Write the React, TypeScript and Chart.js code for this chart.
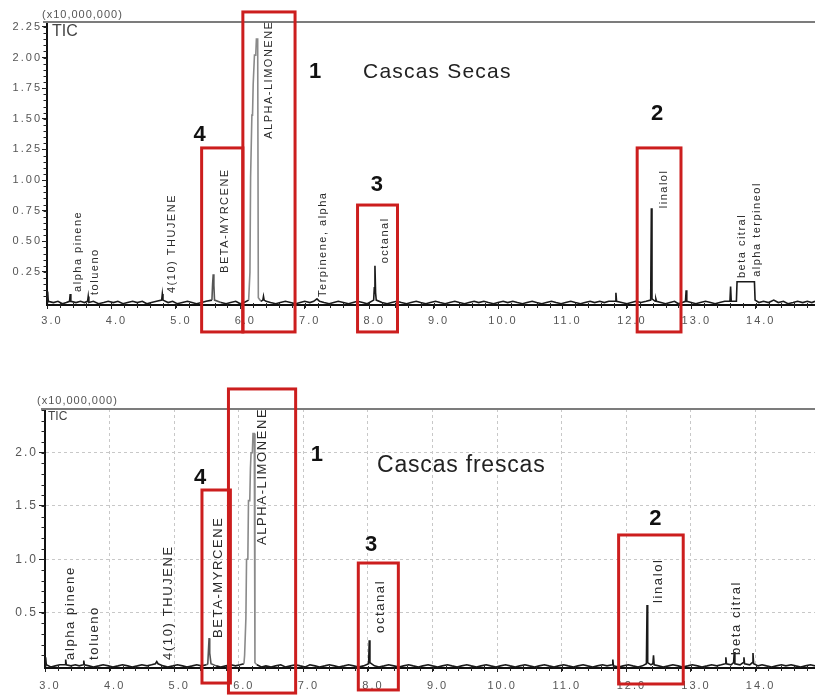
import React, { useEffect, useRef } from "react";
import { Chart, registerables } from "chart.js";

Chart.register(...registerables);

const FONT = "'Liberation Sans', Arial, sans-serif";

// ---------- Cascas Secas (dried peels) : retention time (min) / TIC (x10,000,000)
const secasRT = [
  3.00, 3.01, 3.02, 3.10, 3.17, 3.24, 3.30, 3.35, 3.36, 3.37,
  3.45, 3.52, 3.58, 3.63, 3.64, 3.65, 3.72, 3.80, 3.88, 3.95,
  4.03, 4.10, 4.18, 4.25, 4.33, 4.40, 4.48, 4.55, 4.62, 4.70,
  4.78, 4.79, 4.80, 4.88, 4.95, 5.02, 5.10, 5.18, 5.25, 5.32,
  5.40, 5.47, 5.56, 5.57, 5.58, 5.59, 5.60, 5.70, 5.78, 5.85,
  5.93, 6.00, 6.06, 6.13, 6.15, 6.16, 6.18, 6.19, 6.20, 6.21,
  6.22, 6.24, 6.25, 6.27, 6.28, 6.32, 6.35, 6.36, 6.37, 6.40,
  6.47, 6.55, 6.62, 6.70, 6.78, 6.86, 6.93, 7.00, 7.08, 7.14,
  7.19, 7.23, 7.30, 7.38, 7.45, 7.52, 7.60, 7.68, 7.75, 7.82,
  7.90, 7.97, 8.07, 8.08, 8.09, 8.10, 8.11, 8.20, 8.28, 8.35,
  8.43, 8.50, 8.58, 8.65, 8.73, 8.80, 8.88, 8.95, 9.03, 9.10,
  9.18, 9.25, 9.33, 9.40, 9.48, 9.55, 9.63, 9.70, 9.78, 9.85,
  9.93, 10.00, 10.08, 10.15, 10.23, 10.30, 10.38, 10.45, 10.53, 10.60,
  10.68, 10.75, 10.83, 10.90, 10.98, 11.05, 11.13, 11.20, 11.28, 11.35,
  11.43, 11.50, 11.58, 11.65, 11.72, 11.82, 11.83, 11.84, 11.92, 12.00,
  12.07, 12.14, 12.22, 12.30, 12.37, 12.38, 12.39, 12.44, 12.45, 12.46,
  12.53, 12.60, 12.67, 12.74, 12.80, 12.86, 12.91, 12.92, 12.93, 13.00,
  13.07, 13.14, 13.22, 13.30, 13.37, 13.44, 13.52, 13.60, 13.61, 13.62,
  13.70, 13.71, 13.98, 13.99, 14.05, 14.12, 14.20, 14.28, 14.35, 14.43,
  14.50, 14.58, 14.65, 14.73, 14.80, 14.87, 14.92,
];
const secasTIC = [
  0.00, 0.09, 0.01, 0.00, 0.01, -0.01, 0.00, 0.01, 0.07, 0.01,
  0.00, 0.01, 0.00, 0.01, 0.05, 0.00, 0.01, -0.01, 0.00, 0.01,
  0.00, 0.01, -0.01, 0.00, 0.01, 0.00, 0.01, -0.01, 0.00, 0.01,
  0.02, 0.07, 0.02, 0.00, 0.01, -0.01, 0.00, 0.01, 0.00, -0.01,
  0.00, 0.01, 0.02, 0.15, 0.23, 0.14, 0.02, 0.00, -0.01, 0.00,
  0.01, -0.01, 0.00, 0.02, 0.25, 1.02, 1.53, 1.53, 1.78, 1.78,
  2.02, 2.02, 2.15, 2.15, 0.04, 0.01, 0.02, 0.05, 0.02, 0.01,
  0.00, -0.01, 0.00, 0.01, 0.00, -0.01, 0.00, 0.01, 0.00, 0.01,
  0.03, 0.01, 0.00, -0.01, 0.00, 0.01, 0.00, -0.01, 0.00, 0.01,
  0.00, -0.01, 0.02, 0.12, 0.30, 0.08, 0.02, 0.00, -0.01, 0.00,
  0.01, 0.00, -0.01, 0.00, 0.01, 0.00, -0.01, 0.00, 0.01, 0.00,
  -0.01, 0.00, 0.01, 0.00, -0.01, 0.00, 0.01, 0.00, 0.01, 0.00,
  -0.01, 0.00, 0.01, 0.00, 0.01, 0.00, -0.01, 0.00, 0.01, 0.00,
  -0.01, 0.00, 0.01, 0.00, -0.01, 0.00, 0.01, 0.00, -0.01, 0.00,
  0.01, 0.00, 0.01, 0.00, 0.01, 0.01, 0.08, 0.01, 0.00, -0.01,
  0.00, 0.01, 0.00, 0.01, 0.02, 0.77, 0.03, 0.01, 0.03, 0.01,
  0.00, -0.01, 0.00, 0.01, -0.01, 0.00, 0.01, 0.10, 0.01, 0.00,
  -0.01, 0.00, 0.01, 0.00, -0.01, 0.00, 0.01, 0.01, 0.13, 0.01,
  0.01, 0.17, 0.17, 0.02, 0.00, 0.01, 0.00, 0.02, 0.00, 0.01,
  -0.01, 0.00, 0.01, 0.00, 0.01, 0.00, 0.01,
];

// ---------- Cascas frescas (fresh peels)
const frescasRT = [
  3.00, 3.01, 3.02, 3.09, 3.16, 3.23, 3.31, 3.32, 3.33, 3.40,
  3.47, 3.53, 3.59, 3.60, 3.61, 3.68, 3.75, 3.83, 3.90, 3.98,
  4.05, 4.13, 4.20, 4.28, 4.35, 4.43, 4.50, 4.58, 4.65, 4.71,
  4.73, 4.75, 4.83, 4.90, 4.98, 5.05, 5.13, 5.20, 5.28, 5.35,
  5.42, 5.50, 5.52, 5.53, 5.54, 5.55, 5.57, 5.65, 5.72, 5.80,
  5.88, 5.95, 6.02, 6.08, 6.09, 6.11, 6.12, 6.14, 6.15, 6.17,
  6.18, 6.19, 6.21, 6.22, 6.24, 6.25, 6.28, 6.35, 6.42, 6.50,
  6.57, 6.65, 6.72, 6.80, 6.88, 6.95, 7.03, 7.10, 7.18, 7.25,
  7.33, 7.40, 7.48, 7.55, 7.63, 7.70, 7.78, 7.85, 7.93, 8.01,
  8.02, 8.03, 8.10, 8.17, 8.25, 8.32, 8.40, 8.48, 8.55, 8.63,
  8.70, 8.78, 8.85, 8.93, 9.00, 9.08, 9.15, 9.23, 9.30, 9.38,
  9.45, 9.53, 9.60, 9.68, 9.75, 9.83, 9.90, 9.98, 10.05, 10.13,
  10.20, 10.28, 10.35, 10.43, 10.50, 10.58, 10.65, 10.73, 10.80, 10.88,
  10.95, 11.03, 11.10, 11.18, 11.25, 11.33, 11.40, 11.48, 11.55, 11.63,
  11.70, 11.78, 11.79, 11.80, 11.88, 11.95, 12.03, 12.10, 12.18, 12.25,
  12.31, 12.32, 12.33, 12.38, 12.41, 12.42, 12.43, 12.50, 12.57, 12.65,
  12.72, 12.80, 12.87, 12.95, 13.02, 13.10, 13.17, 13.25, 13.32, 13.40,
  13.47, 13.53, 13.54, 13.55, 13.62, 13.66, 13.67, 13.68, 13.76, 13.81,
  13.82, 13.83, 13.91, 13.95, 13.96, 13.97, 14.04, 14.10, 14.17, 14.25,
  14.32, 14.40, 14.47, 14.55, 14.62, 14.70, 14.77, 14.85, 14.92,
];
const frescasTIC = [
  0.00, 0.08, 0.01, -0.01, 0.00, 0.01, 0.01, 0.06, 0.01, 0.00,
  0.01, 0.00, 0.01, 0.05, 0.01, 0.00, -0.01, 0.00, 0.01, 0.00,
  -0.01, 0.00, 0.01, 0.00, -0.01, 0.00, 0.01, 0.00, 0.01, 0.02,
  0.04, 0.02, 0.00, -0.01, 0.00, 0.01, 0.00, -0.01, 0.00, 0.01,
  0.00, 0.01, 0.02, 0.14, 0.26, 0.12, 0.02, 0.00, -0.01, 0.00,
  0.01, 0.00, 0.01, 0.02, 0.10, 0.45, 1.00, 1.00, 1.55, 1.55,
  1.85, 2.00, 2.00, 2.18, 2.18, 0.03, 0.01, -0.01, 0.00, -0.01,
  0.00, 0.01, -0.01, 0.00, 0.01, 0.00, -0.01, 0.01, 0.00, -0.01,
  0.00, 0.01, 0.00, -0.01, 0.00, 0.01, 0.00, -0.01, 0.00, 0.02,
  0.24, 0.03, 0.00, -0.01, 0.00, 0.01, 0.00, -0.01, 0.00, 0.01,
  0.00, -0.01, 0.00, 0.01, 0.00, -0.01, 0.00, 0.01, 0.00, -0.01,
  0.00, 0.01, 0.00, -0.01, 0.00, 0.01, 0.00, -0.01, 0.00, 0.01,
  0.00, -0.01, 0.00, 0.01, 0.00, -0.01, 0.00, 0.01, 0.00, -0.01,
  0.00, 0.01, 0.00, -0.01, 0.00, 0.01, 0.00, -0.01, 0.00, 0.01,
  0.00, 0.01, 0.06, 0.00, -0.01, 0.00, 0.01, 0.00, -0.01, 0.00,
  0.02, 0.57, 0.03, 0.01, 0.02, 0.10, 0.01, 0.00, -0.01, 0.00,
  0.01, 0.00, -0.01, 0.00, 0.01, 0.00, -0.01, 0.00, 0.01, 0.00,
  0.01, 0.02, 0.08, 0.02, 0.01, 0.03, 0.13, 0.02, 0.01, 0.03,
  0.08, 0.02, 0.01, 0.03, 0.12, 0.02, 0.00, 0.01, 0.00, -0.01,
  0.00, 0.01, 0.00, 0.01, 0.00, -0.01, 0.00, 0.01, 0.00,
];

// ---------- tick labels
const xTicks = [3, 4, 5, 6, 7, 8, 9, 10, 11, 12, 13, 14];
const secasYTicks = [0.25, 0.5, 0.75, 1.0, 1.25, 1.5, 1.75, 2.0, 2.25];
const frescasYTicks = [0.5, 1.0, 1.5, 2.0];

// ---------- peak names (vertical labels): retention time & intensity where the label starts
const secasPeakNames = [
  "alpha pinene", "tolueno", "4(10) THUJENE", "BETA-MYRCENE", "ALPHA-LIMONENE",
  "Terpinene, alpha", "octanal", "linalol", "beta citral", "alpha terpineol",
];
const secasPeakRT = [3.48, 3.74, 4.94, 5.76, 6.44, 7.29, 8.24, 12.57, 13.78, 14.02];
const secasPeakBase = [0.087, 0.062, 0.078, 0.242, 1.337, 0.046, 0.32, 0.77, 0.2, 0.21];

const frescasPeakNames = [
  "alpha pinene", "tolueno", "4(10) THUJENE", "BETA-MYRCENE", "ALPHA-LIMONENE",
  "octanal", "linalol", "beta citral",
];
const frescasPeakRT = [3.40, 3.76, 4.91, 5.68, 6.36, 8.19, 12.49, 13.70];
const frescasPeakBase = [0.056, 0.056, 0.056, 0.262, 1.134, 0.309, 0.59, 0.103];

// ---------- highlighted regions (red boxes): [rtStart, rtEnd, top, bottom]
const secasBoxes = [
  [6.04, 6.85, 2.372, -0.24],
  [5.40, 6.04, 1.262, -0.24],
  [7.82, 8.44, 0.796, -0.24],
  [12.16, 12.84, 1.262, -0.24],
];
const frescasBoxes = [
  [5.84, 6.88, 2.598, -0.255],
  [5.43, 5.87, 1.65, -0.161],
  [7.85, 8.47, 0.965, -0.226],
  [11.88, 12.88, 1.228, -0.17],
];

// ---------- region numbers
const regionNumbers = ["1", "4", "3", "2"];
const secasNumberRT = [7.16, 5.37, 8.12, 12.47];
const secasNumberY = [1.882, 1.368, 0.964, 1.543];
const frescasNumberRT = [7.21, 5.40, 8.05, 12.45];
const frescasNumberY = [1.978, 1.763, 1.134, 1.378];

type Panel = {
  rt: number[];
  tic: number[];
  yMin: number;
  yMax: number;
  xMax: number;
  yTicks: number[];
  yDecimals: number;
  yMinor: number;
  yAxisWidth: number;
  xAxisHeight: number;
  padTop: number;
  yTickFont: number;
  yTickLen: number;
  yTickPad: number;
  xTickPad: number;
  grid: boolean;
  greyFrom: number;
  greyTo: number;
  peakNames: string[];
  peakRT: number[];
  peakBase: number[];
  peakFont: number;
  peakSpacing: string;
  boxes: number[][];
  numRT: number[];
  numY: number[];
  title: string;
  titleRT: number;
  titleY: number;
  titleFont: number;
  titleSpacing: string;
  unitX: number;
  unitY: number;
  ticX: number;
  ticY: number;
  ticFont: number;
};

const secasPanel: Panel = {
  rt: secasRT, tic: secasTIC, yMin: -0.02, yMax: 2.29, xMax: 14.92,
  yTicks: secasYTicks, yDecimals: 2, yMinor: 0.05,
  yAxisWidth: 47, xAxisHeight: 35, padTop: 22,
  yTickFont: 11, yTickLen: 5, yTickPad: 0, xTickPad: 5,
  grid: false, greyFrom: 6.10, greyTo: 6.30,
  peakNames: secasPeakNames, peakRT: secasPeakRT, peakBase: secasPeakBase,
  peakFont: 11, peakSpacing: "1.5px",
  boxes: secasBoxes, numRT: secasNumberRT, numY: secasNumberY,
  title: "Cascas Secas", titleRT: 7.905, titleY: 1.882, titleFont: 21, titleSpacing: "1.2px",
  unitX: 42, unitY: 15, ticX: 52, ticY: 32, ticFont: 16,
};

const frescasPanel: Panel = {
  rt: frescasRT, tic: frescasTIC, yMin: -0.02, yMax: 2.41, xMax: 14.92,
  yTicks: frescasYTicks, yDecimals: 1, yMinor: 0.1,
  yAxisWidth: 45, xAxisHeight: 27, padTop: 34,
  yTickFont: 12, yTickLen: 6, yTickPad: 1, xTickPad: 7,
  grid: true, greyFrom: 6.06, greyTo: 6.26,
  peakNames: frescasPeakNames, peakRT: frescasPeakRT, peakBase: frescasPeakBase,
  peakFont: 13, peakSpacing: "1.6px",
  boxes: frescasBoxes, numRT: frescasNumberRT, numY: frescasNumberY,
  title: "Cascas frescas", titleRT: 8.14, titleY: 1.881, titleFont: 23, titleSpacing: "0.8px",
  unitX: 37, unitY: 26, ticX: 48, ticY: 42, ticFont: 12,
};

function makeChart(canvas: HTMLCanvasElement, p: Panel): Chart {
  const overlay = {
    id: "overlay",
    beforeDraw(chart: any) {
      chart.ctx.letterSpacing = "2px";
    },
    afterDraw(chart: any) {
      const ctx: CanvasRenderingContext2D = chart.ctx;
      const a = chart.chartArea;
      const xs = chart.scales.x;
      const ys = chart.scales.y;
      ctx.save();
      (ctx as any).letterSpacing = "0px";

      // top frame line
      ctx.strokeStyle = "#7c7c7c";
      ctx.lineWidth = 2;
      ctx.beginPath();
      ctx.moveTo(a.left - 4, a.top);
      ctx.lineTo(a.right, a.top);
      ctx.stroke();

      // minor ticks
      ctx.strokeStyle = "#222";
      ctx.lineWidth = 1;
      ctx.beginPath();
      for (let k = 1; k * p.yMinor <= p.yMax + 1e-9; k++) {
        const py = Math.round(ys.getPixelForValue(k * p.yMinor)) + 0.5;
        ctx.moveTo(a.left - 3.5, py);
        ctx.lineTo(a.left, py);
      }
      for (let k = 1; 3 + k * 0.2 <= p.xMax; k++) {
        const px = Math.round(xs.getPixelForValue(3 + k * 0.2)) + 0.5;
        ctx.moveTo(px, a.bottom - 2);
        ctx.lineTo(px, a.bottom + 3);
      }
      ctx.stroke();

      // unit + TIC
      ctx.fillStyle = "#555";
      ctx.font = `11px ${FONT}`;
      (ctx as any).letterSpacing = "1px";
      ctx.textAlign = "left";
      ctx.textBaseline = "middle";
      ctx.fillText("(x10,000,000)", p.unitX, p.unitY);
      ctx.fillStyle = "#444";
      ctx.font = `${p.ticFont}px ${FONT}`;
      (ctx as any).letterSpacing = "0px";
      ctx.fillText("TIC", p.ticX, p.ticY);

      // peak labels (vertical)
      ctx.fillStyle = "#2a2a2a";
      ctx.font = `${p.peakFont}px ${FONT}`;
      (ctx as any).letterSpacing = p.peakSpacing;
      for (let i = 0; i < p.peakNames.length; i++) {
        const px = xs.getPixelForValue(p.peakRT[i]);
        const py = ys.getPixelForValue(p.peakBase[i]);
        ctx.save();
        ctx.translate(px, py);
        ctx.rotate(-Math.PI / 2);
        ctx.textAlign = "left";
        ctx.textBaseline = "middle";
        ctx.fillText(p.peakNames[i], 0, 0);
        ctx.restore();
      }

      // title
      ctx.fillStyle = "#222";
      ctx.font = `${p.titleFont}px ${FONT}`;
      (ctx as any).letterSpacing = p.titleSpacing;
      ctx.textAlign = "left";
      ctx.textBaseline = "middle";
      ctx.fillText(p.title, xs.getPixelForValue(p.titleRT), ys.getPixelForValue(p.titleY));

      // red boxes
      (ctx as any).letterSpacing = "0px";
      ctx.strokeStyle = "#cc1e1e";
      ctx.lineWidth = 3;
      for (const b of p.boxes) {
        const x0 = xs.getPixelForValue(b[0]);
        const x1 = xs.getPixelForValue(b[1]);
        const y0 = ys.getPixelForValue(b[2]);
        const y1 = ys.getPixelForValue(b[3]);
        ctx.strokeRect(x0, y0, x1 - x0, y1 - y0);
      }

      // region numbers
      ctx.fillStyle = "#111";
      ctx.font = `bold 22px ${FONT}`;
      ctx.textAlign = "center";
      ctx.textBaseline = "middle";
      for (let i = 0; i < regionNumbers.length; i++) {
        ctx.fillText(regionNumbers[i], xs.getPixelForValue(p.numRT[i]), ys.getPixelForValue(p.numY[i]));
      }
      ctx.restore();
    },
  };

  const points = p.rt.map((t, i) => ({ x: t, y: p.tic[i] }));

  return new Chart(canvas, {
    type: "line",
    data: {
      datasets: [
        {
          data: points,
          borderColor: "#1a1a1a",
          borderWidth: 1.6,
          pointRadius: 0,
          tension: 0,
          segment: {
            borderColor: (c: any) => {
              const t = c.p0.parsed.x;
              if (t >= p.greyFrom && t < p.greyTo) return "#8a8a8a";
              if (t >= 5.5 && t < 5.62) return "#555";
              return "#1a1a1a";
            },
          },
        },
      ],
    },
    options: {
      animation: false,
      responsive: false,
      maintainAspectRatio: false,
      layout: { padding: { top: p.padTop, left: 0, right: 0, bottom: 0 } },
      plugins: { legend: { display: false }, tooltip: { enabled: false }, title: { display: false } },
      scales: {
        x: {
          type: "linear",
          min: 3,
          max: p.xMax,
          afterBuildTicks: (s: any) => {
            s.ticks = xTicks.map((v) => ({ value: v }));
          },
          afterFit: (s: any) => {
            s.height = p.xAxisHeight;
          },
          ticks: {
            includeBounds: false,
            autoSkip: false,
            maxRotation: 0,
            labelOffset: 5,
            padding: p.xTickPad,
            color: "#555",
            font: { family: FONT, size: 11 },
            callback: (v: any) => Number(v).toFixed(1),
          },
          grid: {
            display: true,
            drawOnChartArea: p.grid,
            drawTicks: true,
            tickLength: 4,
            tickColor: "#222",
            tickWidth: 1,
            color: "#c8c8c8",
            lineWidth: 1,
          },
          border: { display: true, color: "#111", width: 2, dash: p.grid ? [3, 3] : [] },
        },
        y: {
          type: "linear",
          min: p.yMin,
          max: p.yMax,
          afterBuildTicks: (s: any) => {
            s.ticks = p.yTicks.map((v) => ({ value: v }));
          },
          afterFit: (s: any) => {
            s.width = p.yAxisWidth;
          },
          ticks: {
            autoSkip: false,
            padding: p.yTickPad,
            color: "#555",
            font: { family: FONT, size: p.yTickFont },
            callback: (v: any) => Number(v).toFixed(p.yDecimals),
          },
          grid: {
            display: true,
            drawOnChartArea: p.grid,
            drawTicks: true,
            tickLength: p.yTickLen,
            tickColor: "#222",
            tickWidth: 1,
            color: "#c8c8c8",
            lineWidth: 1,
          },
          border: { display: true, color: "#111", width: 2, dash: p.grid ? [3, 3] : [] },
        },
      },
    } as any,
    plugins: [overlay as any],
  });
}

export default function App() {
  const topRef = useRef<HTMLCanvasElement | null>(null);
  const bottomRef = useRef<HTMLCanvasElement | null>(null);

  useEffect(() => {
    const charts: Chart[] = [];
    if (topRef.current) charts.push(makeChart(topRef.current, secasPanel));
    if (bottomRef.current) charts.push(makeChart(bottomRef.current, frescasPanel));
    return () => {
      charts.forEach((c) => c.destroy());
    };
  }, []);

  return (
    <div style={{ position: "fixed", left: 0, top: 0, width: 815, height: 695, background: "#fff", overflow: "hidden" }}>
      <canvas ref={topRef} width={815} height={340} style={{ position: "absolute", left: 0, top: 0, width: 815, height: 340, display: "block" }} />
      <canvas ref={bottomRef} width={815} height={320} style={{ position: "absolute", left: 0, top: 375, width: 815, height: 320, display: "block" }} />
    </div>
  );
}
